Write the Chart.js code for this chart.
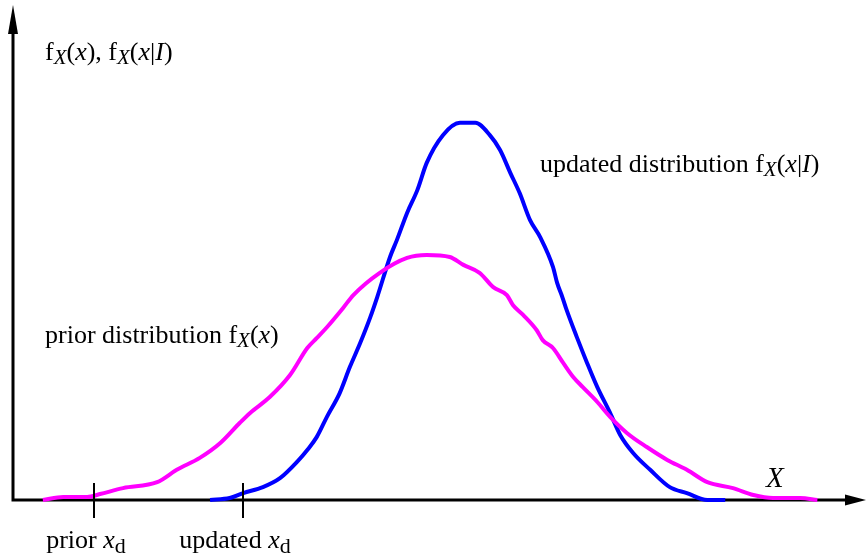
<!DOCTYPE html>
<html><head><meta charset="utf-8">
<script src="https://cdn.jsdelivr.net/npm/chart.js@4/dist/chart.umd.min.js"></script>
<style>html,body{margin:0;padding:0;background:#fff}#wrap{width:866px;height:557px;position:relative}</style>
</head><body><div id="wrap"><canvas id="c"></canvas></div>
<script>
// X variable (arbitrary units) and density values
const priorX = [3.5,5.9,8.7,10.2,12.9,16.9,19.2,21.9,24.3,26.6,27.8,30.1,32.5,34.5,35.6,36.8,38.7,39.9,43.0,46.2,48.5,51.2,52.8,54.7,56.3,57.9,58.6,59.8,61.4,62.1,63.3,64.5,65.7,66.8,68.5,70.0,72.0,74.3,76.7,79.0,81.4,84.4,86.8,89.1,92.3,94.3];
const priorY = [0,0.006,0.006,0.012,0.024,0.036,0.061,0.085,0.115,0.156,0.176,0.208,0.253,0.307,0.327,0.349,0.388,0.414,0.459,0.489,0.495,0.491,0.475,0.459,0.430,0.414,0.394,0.374,0.343,0.323,0.307,0.277,0.248,0.228,0.198,0.168,0.135,0.107,0.081,0.061,0.036,0.024,0.010,0.004,0.004,0];
const updatedX = [23.1,25.4,27.0,29.3,31.3,33.3,34.5,35.6,36.8,38.3,39.5,40.7,41.9,42.7,44.2,45.0,46.2,47.4,48.5,50.4,52.4,54.2,55.9,57.1,58.3,59.4,60.6,61.8,63.3,63.8,64.4,64.9,66.1,67.3,68.5,70.0,71.2,72.7,74.7,77.0,79.0,81.4,83.5];
const updatedY = [0,0.004,0.014,0.026,0.044,0.077,0.101,0.127,0.168,0.216,0.269,0.317,0.370,0.410,0.491,0.525,0.580,0.626,0.681,0.737,0.762,0.762,0.737,0.707,0.661,0.620,0.566,0.531,0.471,0.438,0.410,0.384,0.329,0.277,0.228,0.176,0.131,0.095,0.061,0.026,0.014,0,0];
const tickValues = [9.5, 27.0];
const tickWords = ["prior", "updated"];
const xRange = [0, 100];
const yRange = [0, 1];

const toPts = (xs, ys) => xs.map((x, i) => ({x: x, y: ys[i]}));
const FONT = '"Liberation Serif", "Times New Roman", serif';
const FS = 26, SUB = 21;

function drawRich(ctx, x, y, segs) {
  ctx.textBaseline = 'alphabetic';
  ctx.textAlign = 'left';
  for (const s of segs) {
    ctx.font = (s.i ? 'italic ' : '') + (s.s || FS) + 'px ' + FONT;
    ctx.fillText(s.t, x, y + (s.dy || 0));
    x += ctx.measureText(s.t).width;
  }
}
function richWidth(ctx, segs) {
  let w = 0;
  for (const s of segs) {
    ctx.font = (s.i ? 'italic ' : '') + (s.s || FS) + 'px ' + FONT;
    w += ctx.measureText(s.t).width;
  }
  return w;
}
const fX = [{t:'f'},{t:'X',s:SUB,i:1,dy:4}];
const fxSegs = fX.concat([{t:'('},{t:'x',i:1},{t:')'}]);
const fxISegs = fX.concat([{t:'('},{t:'x',i:1},{t:'|'},{t:'I',i:1},{t:')'}]);

const axesPlugin = {
  id: 'axesPlugin',
  beforeDatasetsDraw(chart) {
    const ctx = chart.ctx, xs = chart.scales.x, ys = chart.scales.y;
    const x0 = xs.getPixelForValue(xRange[0]), y0 = ys.getPixelForValue(yRange[0]);
    const xEnd = xs.getPixelForValue(xRange[1]), yEnd = ys.getPixelForValue(yRange[1]);
    ctx.save();
    ctx.strokeStyle = '#000'; ctx.fillStyle = '#000'; ctx.lineWidth = 3;
    ctx.beginPath();
    ctx.moveTo(x0, y0); ctx.lineTo(x0, yEnd + 20);
    ctx.moveTo(x0 - 1.5, y0); ctx.lineTo(xEnd - 18, y0);
    ctx.stroke();
    ctx.beginPath();
    ctx.moveTo(x0, yEnd); ctx.lineTo(x0 - 5, yEnd + 29); ctx.lineTo(x0 + 5, yEnd + 29); ctx.closePath(); ctx.fill();
    ctx.beginPath();
    ctx.moveTo(xEnd, y0); ctx.lineTo(xEnd - 21, y0 - 5.5); ctx.lineTo(xEnd - 21, y0 + 5.5); ctx.closePath(); ctx.fill();
    ctx.restore();
  },
  afterDatasetsDraw(chart) {
    const ctx = chart.ctx, xs = chart.scales.x, ys = chart.scales.y;
    const y0 = ys.getPixelForValue(0);
    ctx.save();
    ctx.strokeStyle = '#000'; ctx.fillStyle = '#000'; ctx.lineWidth = 2;
    tickValues.forEach((v, i) => {
      const px = Math.round(xs.getPixelForValue(v));
      ctx.beginPath(); ctx.moveTo(px, y0 - 17); ctx.lineTo(px, y0 + 18); ctx.stroke();
      const segs = [{t: tickWords[i] + ' '}, {t:'x', i:1}, {t:'d', s:22, dy:5}];
      const w = richWidth(ctx, segs);
      drawRich(ctx, px - 8 - w / 2, y0 + 48, segs);
    });
    drawRich(ctx, 45, 60, fxSegs.concat([{t:', '}], fxISegs));
    drawRich(ctx, 540, 172, [{t:'updated distribution '}].concat(fxISegs));
    drawRich(ctx, 45, 343, [{t:'prior distribution '}].concat(fxSegs));
    drawRich(ctx, 766, 487, [{t:'X', i:1, s:29}]);
    ctx.restore();
  }
};

new Chart(document.getElementById('c'), {
  type: 'scatter',
  data: {
    datasets: [
      {label: 'prior distribution', data: toPts(priorX, priorY), showLine: true, borderColor: '#FF00FF', borderWidth: 4, pointRadius: 0, cubicInterpolationMode: 'monotone', clip: false, borderJoinStyle: 'round', borderCapStyle: 'butt'},
      {label: 'updated distribution', data: toPts(updatedX, updatedY), showLine: true, borderColor: '#0000FF', borderWidth: 4, pointRadius: 0, cubicInterpolationMode: 'monotone', clip: false, borderJoinStyle: 'round', borderCapStyle: 'butt'}
    ]
  },
  options: {
    responsive: true, maintainAspectRatio: false, animation: false, devicePixelRatio: 1,
    layout: {padding: {left: 13, right: 0, top: 5, bottom: 57}},
    plugins: {legend: {display: false}, tooltip: {enabled: false}},
    scales: {
      x: {type: 'linear', min: xRange[0], max: xRange[1], display: false},
      y: {type: 'linear', min: yRange[0], max: yRange[1], display: false}
    }
  },
  plugins: [axesPlugin]
});
</script></body></html>
